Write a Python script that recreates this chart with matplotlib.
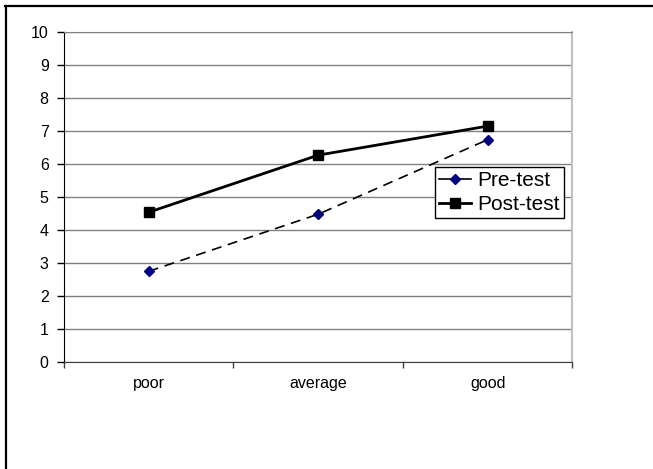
import matplotlib.pyplot as plt
from matplotlib.lines import Line2D

plt.rcParams["font.family"] = ["Liberation Sans", "DejaVu Sans"]

categories = ["poor", "average", "good"]
pre_test = [2.75, 4.48, 6.74]
post_test = [4.54, 6.27, 7.15]

fig = plt.figure(figsize=(6.53, 4.69), dpi=100)
ax = fig.add_axes([0.098, 0.228, 0.7787, 0.7037])

x = list(range(len(categories)))
ax.plot(x, pre_test, color="black", lw=1.2, ls=(0, (6, 4)),
        marker="D", ms=5, mfc="#000080", mec="#000080", label="Pre-test", zorder=3)
ax.plot(x, post_test, color="black", lw=2, ls="-",
        marker="s", ms=7, mfc="black", mec="black", label="Post-test", zorder=3)

ax.set_xlim(-0.5, 2.5)
ax.set_ylim(0, 10)
ax.set_yticks(range(0, 11))
ax.yaxis.grid(True, color="#808080", lw=1)
ax.set_axisbelow(True)

# ticks between categories, labels centered on them
ax.set_xticks([-0.5, 0.5, 1.5, 2.5])
ax.set_xticklabels([])
ax.set_xticks(x, minor=True)
ax.set_xticklabels(categories, minor=True)
ax.tick_params(axis="x", which="minor", length=0, pad=10, labelsize=11.5)
ax.tick_params(axis="x", which="major", length=4, width=1, color="#404040")
ax.tick_params(axis="y", length=5, width=1, pad=6, labelsize=11.5)

ax.spines["left"].set_color("black")
ax.spines["bottom"].set_color("#404040")
ax.spines["right"].set_color("#c0c0c0")
ax.spines["right"].set_linewidth(1.5)
ax.spines["top"].set_color("#808080")

leg = ax.legend(loc="upper left", bbox_to_anchor=(0.73, 0.592), borderaxespad=0,
                fancybox=False, framealpha=1, edgecolor="black", fontsize=15,
                handlelength=1.5, handletextpad=0.3, borderpad=0.2, labelspacing=0.25)
leg.get_frame().set_linewidth(1)
leg.get_lines()[0].set_linestyle("-")

# outer frame around the chart
fig.add_artist(Line2D([5 / 653, 652 / 653], [1 - 6 / 469, 1 - 6 / 469],
                      transform=fig.transFigure, color="black", lw=1.6))
fig.add_artist(Line2D([6 / 653, 6 / 653], [0, 1 - 6 / 469],
                      transform=fig.transFigure, color="black", lw=1.6))

fig.savefig("out.png", dpi=100)
